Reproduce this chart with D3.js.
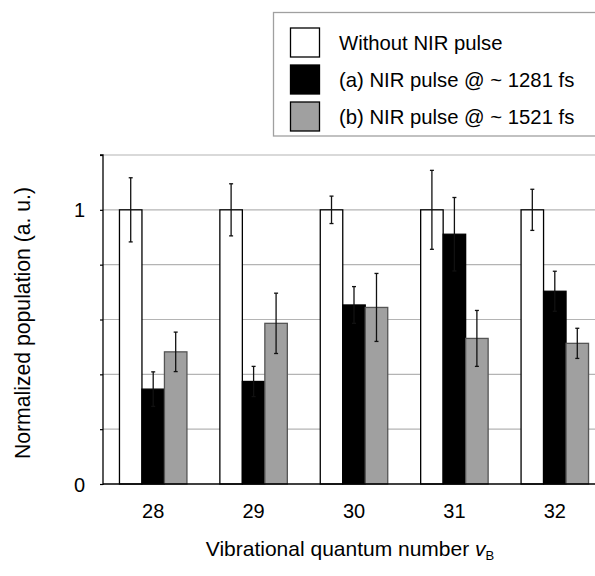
<!DOCTYPE html>
<html><head><meta charset="utf-8">
<script src="https://cdn.jsdelivr.net/npm/d3@7"></script>
<style>body{margin:0;background:#fff}svg{display:block}text{font-family:"Liberation Sans",Arial,sans-serif}</style>
</head><body><svg id="c" width="595" height="576"></svg>
<script>
const categories = ["28","29","30","31","32"];
const seriesNames = ["Without NIR pulse","(a) NIR pulse @ ~ 1281 fs","(b) NIR pulse @ ~ 1521 fs"];
const withoutNIR = [1,1,1,1,1];
const withoutNIRErr = [0.117,0.095,0.05,0.144,0.075];
const nir1281 = [0.346,0.374,0.653,0.911,0.703];
const nir1281Err = [0.063,0.055,0.067,0.134,0.073];
const nir1521 = [0.482,0.586,0.644,0.531,0.513];
const nir1521Err = [0.072,0.11,0.124,0.102,0.055];
const yTicks = [0,0.2,0.4,0.6,0.8,1,1.2];
const yTickLabels = {0:"0",1:"1"};

const fills = ["#ffffff","#000000","#a0a0a0"];
const strokes = ["#000000","#000000","#555555"];
const values = [withoutNIR, nir1281, nir1521];
const errs = [withoutNIRErr, nir1281Err, nir1521Err];

const svg = d3.select("#c");
const L = 103, R = 605, T = 155, B = 484;
const y = d3.scaleLinear().domain([0,1.2]).range([B,T]);
const x0 = d3.scaleBand().domain(categories).range([L,R]).paddingInner(0.328).paddingOuter(0.164);
const x1 = d3.scaleBand().domain(d3.range(3)).range([0,x0.bandwidth()]);

// gridlines
svg.append("g").selectAll("line").data(yTicks.filter(d=>d>0)).join("line")
  .attr("x1",L).attr("x2",595).attr("y1",d=>y(d)).attr("y2",d=>y(d))
  .attr("stroke","#b4b4b4").attr("stroke-width",1.2);

// bars
const data = [];
categories.forEach((c,i)=>{ for(let s=0;s<3;s++) data.push({c,s,v:values[s][i],e:errs[s][i]}); });
const g = svg.append("g");
g.selectAll("rect").data(data).join("rect")
  .attr("x",d=>x0(d.c)+x1(d.s)).attr("width",x1.bandwidth())
  .attr("y",d=>y(d.v)).attr("height",d=>B-y(d.v))
  .attr("fill",d=>fills[d.s]).attr("stroke",d=>strokes[d.s]).attr("stroke-width",1.3);

// error bars
const eg = svg.append("g").attr("stroke","#111").attr("stroke-width",1.3);
data.forEach(d=>{
  const cx = x0(d.c)+x1(d.s)+x1.bandwidth()/2;
  eg.append("line").attr("x1",cx).attr("x2",cx).attr("y1",y(d.v+d.e)).attr("y2",y(d.v-d.e));
  [d.v+d.e,d.v-d.e].forEach(t=>eg.append("line").attr("x1",cx-2).attr("x2",cx+2).attr("y1",y(t)).attr("y2",y(t)));
});

// axes
const ya = d3.axisLeft(y).tickValues(yTicks).tickSize(3).tickFormat(d=>yTickLabels[d]||"");
const yg = svg.append("g").attr("transform",`translate(${L},0)`).call(ya);
yg.select(".domain").attr("stroke","#000").attr("stroke-width",1.3).attr("d",`M-3,${T}H0V${B+1}`);
yg.selectAll(".tick line").attr("stroke","#000").attr("stroke-width",1.2);
yg.selectAll(".tick text").attr("font-size",20).attr("x",-18).attr("dy","0.35em").attr("fill","#000");

svg.append("line").attr("x1",L).attr("x2",595).attr("y1",B).attr("y2",B).attr("stroke","#000").attr("stroke-width",1.3);

const xa = d3.axisBottom(x0).tickSize(0);
const xg = svg.append("g").attr("transform",`translate(0,${B})`).call(xa);
xg.select(".domain").remove();
xg.selectAll(".tick text").attr("font-size",20).attr("y",20).attr("dy","0.71em").attr("fill","#000");

// axis titles
const xt = svg.append("text").attr("x",350).attr("y",556).attr("text-anchor","middle").attr("font-size",21);
xt.append("tspan").text("Vibrational quantum number ");
xt.append("tspan").attr("font-style","italic").text("v");
xt.append("tspan").attr("font-size",13).attr("dy",4).text("B");

svg.append("text").attr("transform","translate(30,323) rotate(-90)").attr("text-anchor","middle")
  .attr("font-size",21.2).text("Normalized population (a. u.)");

// legend
const lg = svg.append("g");
lg.append("rect").attr("x",273.5).attr("y",12.5).attr("width",330).attr("height",123.5)
  .attr("fill","#fff").attr("stroke","#a0a0a0").attr("stroke-width",1.3);
seriesNames.forEach((n,i)=>{
  const yy = 28 + i*37;
  lg.append("rect").attr("x",290.5).attr("y",yy).attr("width",29).attr("height",29)
    .attr("fill",fills[i]).attr("stroke","#000").attr("stroke-width",1.3);
  lg.append("text").attr("x",339).attr("y",yy+15).attr("dy","0.35em").attr("font-size",20.3).text(n);
});
</script></body></html>
